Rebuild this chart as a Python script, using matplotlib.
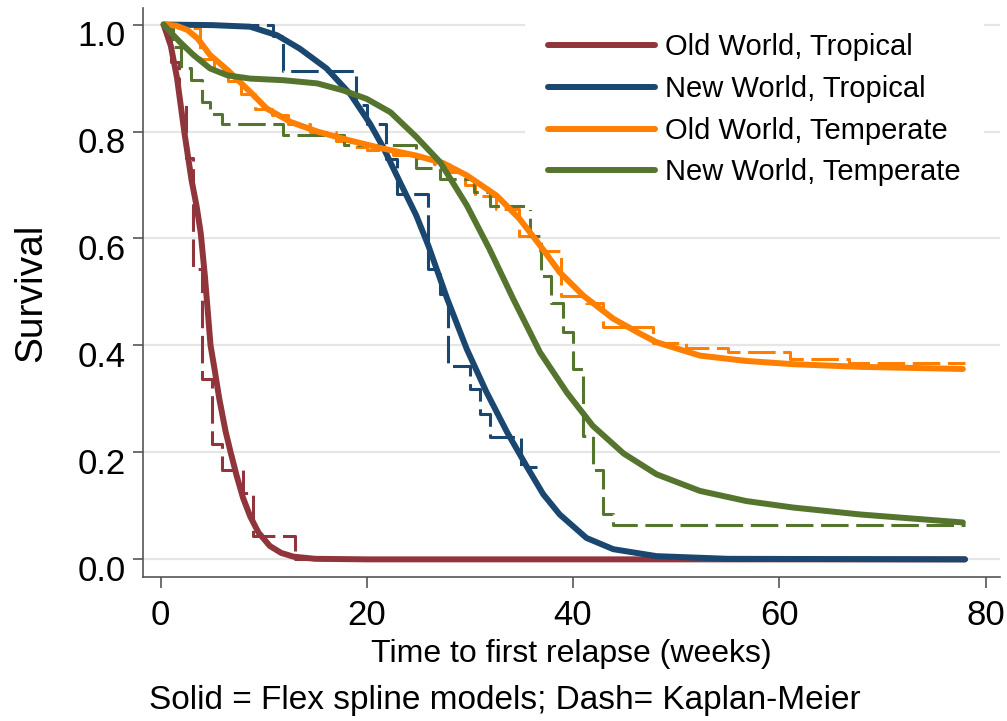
import matplotlib
matplotlib.use("Agg")
import matplotlib.pyplot as plt
import matplotlib.transforms as mtransforms

plt.rcParams['font.family'] = ['Liberation Sans', 'DejaVu Sans']

labels = ["Old World, Tropical", "New World, Tropical",
          "Old World, Temperate", "New World, Temperate"]
colors = ["#90353b", "#1a476f", "#ff7f00", "#55752f"]

# flexible spline fits (solid)
owt_t = [0.3, 1.0, 1.6, 2.3, 3.0, 3.5, 3.9, 4.3, 4.85, 5.2, 5.7, 6.3, 6.8, 7.4, 8.0, 8.7, 9.5, 10.6, 11.7, 12.9, 15, 20, 78]
owt_s = [1.0, 0.96, 0.9, 0.8, 0.71, 0.66, 0.61, 0.53, 0.40, 0.36, 0.30, 0.24, 0.20, 0.155, 0.115, 0.08, 0.05, 0.025, 0.012, 0.005, 0.001, 0, 0]

nwt_t = [0.3, 5, 8.7, 11.3, 13.5, 16.1, 18.4, 20.3, 21.6, 23.2, 24.8, 26.0, 27.8, 29.7, 31.6, 33.6, 35.5, 37.1, 38.7, 41.3, 43.9, 48.1, 55, 78]
nwt_s = [1.0, 0.999, 0.996, 0.98, 0.955, 0.918, 0.87, 0.815, 0.77, 0.706, 0.643, 0.585, 0.487, 0.393, 0.313, 0.238, 0.174, 0.122, 0.084, 0.040, 0.019, 0.006, 0.001, 0]

owm_t = [0.3, 1.5, 2.6, 3.6, 4.8, 6.5, 8.7, 10.3, 12.6, 15.2, 18.4, 21.6, 24.8, 27.4, 29.7, 32.6, 34.8, 36.8, 38.7, 41.0, 43.9, 46.5, 48.1, 52.3, 56.8, 61.3, 67.8, 77.8]
owm_s = [1.0, 0.998, 0.99, 0.974, 0.943, 0.915, 0.874, 0.843, 0.818, 0.80, 0.783, 0.768, 0.755, 0.741, 0.718, 0.68, 0.637, 0.587, 0.537, 0.493, 0.45, 0.422, 0.406, 0.381, 0.371, 0.365, 0.36, 0.356]

nwm_t = [0.3, 1.0, 1.9, 3.2, 4.8, 6.5, 8.7, 11.9, 15.2, 17.7, 20.0, 22.3, 24.8, 27.1, 29.7, 31.9, 34.2, 36.8, 39.4, 41.9, 44.9, 48.1, 52.3, 56.8, 61.3, 67.8, 77.8]
nwm_s = [1.0, 0.985, 0.967, 0.943, 0.918, 0.905, 0.899, 0.896, 0.89, 0.877, 0.861, 0.836, 0.79, 0.743, 0.662, 0.58, 0.487, 0.387, 0.312, 0.25, 0.198, 0.159, 0.128, 0.109, 0.097, 0.084, 0.069]

# Kaplan-Meier estimates (dashed steps)
km_owt_t = [0, 1.0, 1.8, 2.5, 3.1, 4.0, 5.0, 6.0, 8.0, 9.0, 13.0, 20.0]
km_owt_s = [1.0, 0.93, 0.85, 0.75, 0.543, 0.337, 0.215, 0.168, 0.125, 0.043, 0.0, 0.0]

km_nwt_t = [0, 10.9, 11.9, 19.0, 20.0, 21.9, 22.9, 25.9, 27.1, 27.9, 30.0, 31.0, 31.9, 35.0, 36.5]
km_nwt_s = [1.0, 0.978, 0.913, 0.85, 0.815, 0.749, 0.683, 0.543, 0.497, 0.362, 0.318, 0.272, 0.228, 0.172, 0.172]

km_owm_t = [0, 1.8, 3.8, 5.2, 6.5, 7.8, 9.2, 10.8, 12.4, 14.5, 17.0, 18.5, 20.0, 22.5, 24.5, 26.5, 28.0, 29.5, 30.5, 32.5, 34.8, 36.8, 38.8, 41.3, 42.9, 47.8, 51.0, 55.0, 61.0, 66.8, 78.0]
km_owm_s = [1.0, 0.993, 0.935, 0.915, 0.895, 0.87, 0.843, 0.83, 0.815, 0.80, 0.783, 0.772, 0.765, 0.757, 0.75, 0.74, 0.725, 0.70, 0.68, 0.655, 0.605, 0.577, 0.493, 0.48, 0.434, 0.405, 0.396, 0.387, 0.375, 0.368, 0.368]

km_nwm_t = [0, 1.2, 2.0, 3.0, 4.0, 4.8, 6.0, 11.9, 17.8, 24.8, 27.1, 30.4, 31.9, 35.8, 36.9, 37.9, 39.0, 40.0, 41.0, 41.9, 42.9, 43.9, 78.0]
km_nwm_s = [1.0, 0.958, 0.918, 0.896, 0.855, 0.833, 0.815, 0.793, 0.774, 0.732, 0.712, 0.687, 0.66, 0.605, 0.53, 0.48, 0.425, 0.356, 0.231, 0.167, 0.084, 0.064, 0.064]

fits = [(owt_t, owt_s), (nwt_t, nwt_s), (owm_t, owm_s), (nwm_t, nwm_s)]
kms = [(km_owt_t, km_owt_s), (km_nwt_t, km_nwt_s), (km_owm_t, km_owm_s), (km_nwm_t, km_nwm_s)]

fig = plt.figure(figsize=(10.07, 7.21), dpi=100)
ax = fig.add_axes([143/1007, 1 - 577/721, (1000-143)/1007, (577-8)/721])

for (t, s), c in zip(kms, colors):
    ax.step(t, s, where='post', color=c, lw=2.2, linestyle=(0, (9, 2.5)))
for (t, s), c, lab in zip(fits, colors, labels):
    ax.plot(t, s, color=c, lw=4.3, solid_capstyle='round', solid_joinstyle='round', label=lab)

ax.set_xlim(-1.7, 81.4)
ax.set_ylim(-0.033, 1.031)
ax.set_xticks([0, 20, 40, 60, 80])
ax.set_yticks([0, 0.2, 0.4, 0.6, 0.8, 1.0])
ax.set_yticklabels(["0.0", "0.2", "0.4", "0.6", "0.8", "1.0"])
ax.grid(axis='y', color='#e6e6e6', lw=1.6)
ax.set_axisbelow(True)
for side in ['top', 'right']:
    ax.spines[side].set_visible(False)
for side in ['left', 'bottom']:
    ax.spines[side].set_color('#555555')
    ax.spines[side].set_linewidth(1.2)
ax.tick_params(axis='both', colors='#555555', width=1.2, labelcolor='black', labelsize=25)
ax.tick_params(axis='x', length=8, pad=8)
ax.tick_params(axis='y', length=7.5, pad=5)
shift = mtransforms.ScaledTranslation(0, -6/72, fig.dpi_scale_trans)
for lbl in ax.get_yticklabels():
    lbl.set_transform(lbl.get_transform() + shift)

ax.set_ylabel("Survival", fontsize=28, labelpad=20)
ax.set_xlabel("Time to first relapse (weeks)", fontsize=23, labelpad=5)
fig.text(505/1007, 1 - 700/721, "Solid = Flex spline models; Dash= Kaplan-Meier",
         fontsize=24, ha='center', va='center')

leg = ax.legend(loc='upper left', bbox_to_anchor=(525/1007, 1 - 10/721),
                bbox_transform=fig.transFigure, frameon=True, fancybox=False,
                facecolor='white', edgecolor='none', framealpha=1,
                fontsize=21, handlelength=3.66, handletextpad=0.34,
                labelspacing=0.47, borderpad=0.8, borderaxespad=0)

fig.savefig("out.png", dpi=100)
